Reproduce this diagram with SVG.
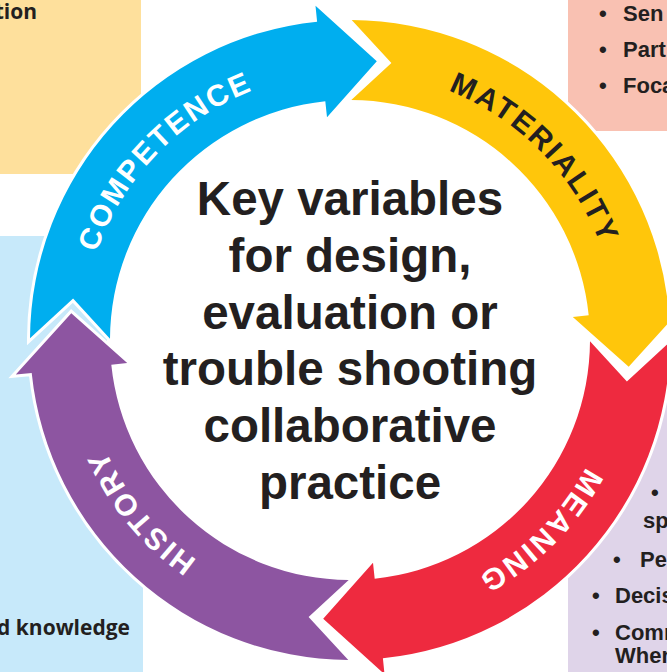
<svg xmlns="http://www.w3.org/2000/svg" width="667" height="672" viewBox="0 0 667 672">
<style>
.box-text{font-family:"Liberation Sans",Arial,sans-serif;font-weight:bold;font-size:22px;fill:#231F20}
.side-text{font-family:"Open Sans","Noto Sans",sans-serif;font-weight:bold;font-size:21px;fill:#231F20}
.title{font-family:"Liberation Sans",Arial,sans-serif;font-weight:bold;font-size:47.5px;fill:#231F20;text-anchor:middle}
.arrow{stroke:#ffffff;stroke-width:6;stroke-linejoin:miter;paint-order:stroke}
.label{font-family:"Liberation Sans",Arial,sans-serif;font-weight:bold;font-size:30px;letter-spacing:2.2px}
</style>
<defs>
<path id="p-competence" d="M 92.4,413.9 A 268 268 0 0 1 414.8,80.0" fill="none"/>
<path id="p-materiality" d="M 282.4,80.7 A 268 268 0 0 1 608.4,411.2" fill="none"/>
<path id="p-meaning" d="M 608.9,270.6 A 268 268 0 0 1 280.6,598.9" fill="none"/>
<path id="p-history" d="M 394.2,604.3 A 268 268 0 0 1 99.0,246.1" fill="none"/>
</defs>
<rect width="667" height="672" fill="#ffffff"/>
<g id="box-top-left">
<rect x="0" y="0" width="141" height="174" fill="#FEE09C"/>
<text class="side-text" x="37" y="19" text-anchor="end">tion</text>
</g>
<g id="box-left">
<rect x="0" y="236" width="143" height="436" fill="#C7E9FA"/>
<text class="side-text" x="130" y="635" text-anchor="end">d knowledge</text>
</g>
<g id="box-top-right">
<rect x="568" y="0" width="99" height="131" fill="#F9C1B2"/>
<text class="box-text" x="599" y="21">•<tspan x="623">Sen</tspan></text>
<text class="box-text" x="599" y="57">•<tspan x="623">Part</tspan></text>
<text class="box-text" x="599" y="93">•<tspan x="623">Foca</tspan></text>
</g>
<g id="box-bottom-right">
<rect x="568" y="395" width="99" height="277" fill="#DFD4E9"/>
<text class="box-text" x="651" y="500">•</text>
<text class="box-text" x="643" y="528">sp</text>
<text class="box-text" x="613" y="567">•<tspan x="640">Pe</tspan></text>
<text class="box-text" x="592" y="603">•<tspan x="615">Decis</tspan></text>
<text class="box-text" x="592" y="640">•<tspan x="615">Comm</tspan><tspan x="615" y="663">Wher</tspan></text>
</g>
<circle cx="350" cy="340" r="243" fill="#ffffff"/>
<g id="connectors">
<path id="arrow-competence" class="arrow" fill="#00AEEF" d="M 30.0,338.3 A 320 320 0 0 1 317.1,21.7 L 315.5,5.8 L 376.8,61.3 L 327.0,117.2 L 325.3,101.3 A 240 240 0 0 0 110.0,338.7 L 73.1,298.6 Z"/>
<path id="arrow-materiality" class="arrow" fill="#FFC60B" d="M 351.7,20.0 A 320 320 0 0 1 668.3,307.1 L 684.2,305.5 L 628.7,366.8 L 572.8,317.0 L 588.7,315.3 A 240 240 0 0 0 351.3,100.0 L 391.4,63.1 Z"/>
<path id="arrow-meaning" class="arrow" fill="#EE2A3F" d="M 670.0,341.7 A 320 320 0 0 1 382.9,658.3 L 384.5,674.2 L 323.2,618.7 L 373.0,562.8 L 374.7,578.7 A 240 240 0 0 0 590.0,341.3 L 626.9,381.4 Z"/>
<path id="arrow-history" class="arrow" fill="#8D55A1" d="M 348.3,660.0 A 320 320 0 0 1 31.7,372.9 L 15.8,374.5 L 71.3,313.2 L 127.2,363.0 L 111.3,364.7 A 240 240 0 0 0 348.7,580.0 L 308.6,616.9 Z"/>
</g>
<g id="label-competence">
<text class="label" fill="#ffffff"><textPath href="#p-competence" startOffset="50%" text-anchor="middle">COMPETENCE</textPath></text>
</g>
<g id="label-materiality">
<text class="label" fill="#231F20"><textPath href="#p-materiality" startOffset="50%" text-anchor="middle">MATERIALITY</textPath></text>
</g>
<g id="label-meaning">
<text class="label" fill="#ffffff"><textPath href="#p-meaning" startOffset="50%" text-anchor="middle">MEANING</textPath></text>
</g>
<g id="label-history">
<text class="label" fill="#ffffff"><textPath href="#p-history" startOffset="50%" text-anchor="middle">HISTORY</textPath></text>
</g>
<g id="center">
<text class="title" x="350" y="215">Key variables</text>
<text class="title" x="350" y="272">for design,</text>
<text class="title" x="350" y="329">evaluation or</text>
<text class="title" x="350" y="385">trouble shooting</text>
<text class="title" x="350" y="442">collaborative</text>
<text class="title" x="350" y="499">practice</text>
</g>
</svg>
